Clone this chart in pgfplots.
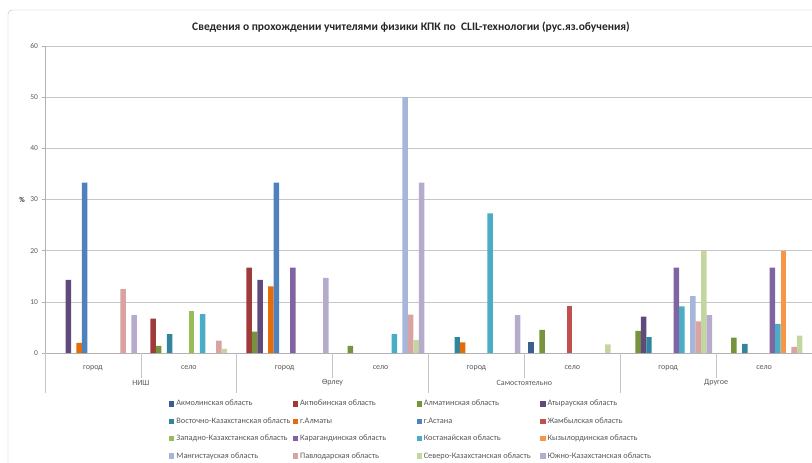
\documentclass[border=0pt]{standalone}
\usepackage{fontspec}
\setmainfont{Carlito}
\usepackage{pgfplots}
\pgfplotsset{compat=1.18}
\definecolor{c1}{HTML}{3A5F8F}
\definecolor{c2}{HTML}{9E3B38}
\definecolor{c3}{HTML}{77933C}
\definecolor{c4}{HTML}{604A7B}
\definecolor{c5}{HTML}{31859C}
\definecolor{c6}{HTML}{E46C0A}
\definecolor{c7}{HTML}{4F81BD}
\definecolor{c8}{HTML}{C0504D}
\definecolor{c9}{HTML}{9BBB59}
\definecolor{c10}{HTML}{8064A2}
\definecolor{c11}{HTML}{4BACC6}
\definecolor{c12}{HTML}{F79646}
\definecolor{c13}{HTML}{A5B6DA}
\definecolor{c14}{HTML}{D9A3A2}
\definecolor{c15}{HTML}{C4D6A0}
\definecolor{c16}{HTML}{B7ABCC}
\definecolor{tgray}{HTML}{595959}
\newcommand{\lb}[1]{\makebox[113pt][l]{#1}}
\begin{document}
\begin{tikzpicture}
\useasboundingbox (-45pt,-110pt) rectangle (767pt,353pt);
\draw[gray!55, rounded corners=4pt] (-37pt,343pt) rectangle (800pt,-140pt);
\node[font=\bfseries\fontsize{11.5}{13}\selectfont, text=black!85] at (366pt,326pt) {Сведения о прохождении учителями физики КПК по\ \ CLIL-технологии (рус.яз.обучения)};
\node[font=\bfseries\fontsize{7.5}{9}\selectfont, text=black!80] at (-23pt,153pt) {\%};
\begin{axis}[
  at={(0,0)}, anchor=south west,
  width=767pt, height=307pt, scale only axis,
  xmin=-0.5, xmax=7.5, ymin=0, ymax=60,
  ybar=0pt, bar width=5.48pt,
  axis lines*=left,
  axis line style={draw=gray!60, line width=0.6pt},
  ytick={0,10,...,60},
  ymajorgrids, grid style={draw=gray!45, line width=0.6pt},
  tick align=outside, major tick length=3.5pt,
  ytick style={draw=gray!60, line width=0.6pt},
  xtick={0,...,7},
  xticklabels={город,село,город,село,город,село,город,село},
  major x tick style={draw=none},
  xticklabel style={font=\fontsize{8}{9}\selectfont, text=tgray, yshift=-6pt},
  yticklabel style={font=\fontsize{7.5}{9}\selectfont, text=tgray},
  /pgf/number format/assume math mode=true,
  clip=false,
  legend columns=4,
  legend style={draw=none, at={(0.1617,-0.147)}, anchor=north west,
    font=\fontsize{8.3}{9.5}\selectfont, text=tgray, inner sep=0pt,
    /tikz/every even column/.append style={column sep=1.5pt},
    row sep=6.2pt},
  legend cell align=left,
  legend image code/.code={\path[#1] (0pt,-2.6pt) rectangle (5.2pt,2.6pt);},
  every axis plot/.append style={draw=none},
]
\addplot[fill=c1] coordinates {(5,2.1)};
\addplot[fill=c2] coordinates {(1,6.7) (2,16.7)};
\addplot[fill=c3] coordinates {(1,1.4) (2,4.2) (3,1.4) (5,4.5) (6,4.3) (7,3.0)};
\addplot[fill=c4] coordinates {(0,14.3) (2,14.3) (6,7.1)};
\addplot[fill=c5] coordinates {(1,3.7) (4,3.1) (6,3.1) (7,1.8)};
\addplot[fill=c6] coordinates {(0,2.0) (2,13.0) (4,2.1)};
\addplot[fill=c7] coordinates {(0,33.3) (2,33.3)};
\addplot[fill=c8] coordinates {(5,9.1)};
\addplot[fill=c9] coordinates {(1,8.2)};
\addplot[fill=c10] coordinates {(2,16.7) (6,16.7) (7,16.7)};
\addplot[fill=c11] coordinates {(1,7.6) (3,3.7) (4,27.3) (6,9.1) (7,5.7)};
\addplot[fill=c12] coordinates {(7,20)};
\addplot[fill=c13] coordinates {(3,50) (6,11.1)};
\addplot[fill=c14] coordinates {(0,12.5) (1,2.4) (3,7.5) (6,6.2) (7,1.2)};
\addplot[fill=c15] coordinates {(1,0.8) (3,2.5) (5,1.7) (6,20) (7,3.4)};
\addplot[fill=c16] coordinates {(0,7.4) (2,14.7) (3,33.3) (4,7.4) (6,7.4)};
\legend{\lb{Акмолинская область},\lb{Актюбинская область},\lb{Алматинская область},\lb{Атырауская область},
\lb{Восточно-Казахстанская область},\lb{г.Алматы},\lb{г.Астана},\lb{Жамбылская область},
\lb{Западно-Казахстанская область},\lb{Карагандинская область},\lb{Костанайская область},\lb{Кызылординская область},
\lb{Мангистауская область},\lb{Павлодарская область},\lb{Северо-Казахстанская область},\lb{Южно-Казахстанская область}}
\pgfplotsinvokeforeach{0.5,2.5,4.5,6.5}{\draw[gray!45, line width=0.6pt] (axis cs:#1,0) -- ([yshift=-25pt]axis cs:#1,0);}
\pgfplotsinvokeforeach{-0.5,1.5,3.5,5.5}{\draw[gray!45, line width=0.6pt] (axis cs:#1,0) -- ([yshift=-40pt]axis cs:#1,0);}
\node[font=\fontsize{8}{9}\selectfont, text=tgray, yshift=-30pt] at (axis cs:0.5,0) {НИШ};
\node[font=\fontsize{8}{9}\selectfont, text=tgray, yshift=-30pt] at (axis cs:2.5,0) {Өрлеу};
\node[font=\fontsize{8}{9}\selectfont, text=tgray, yshift=-30pt] at (axis cs:4.5,0) {Самостоятельно};
\node[font=\fontsize{8}{9}\selectfont, text=tgray, yshift=-30pt] at (axis cs:6.5,0) {Другое};
\end{axis}
\end{tikzpicture}
\end{document}
